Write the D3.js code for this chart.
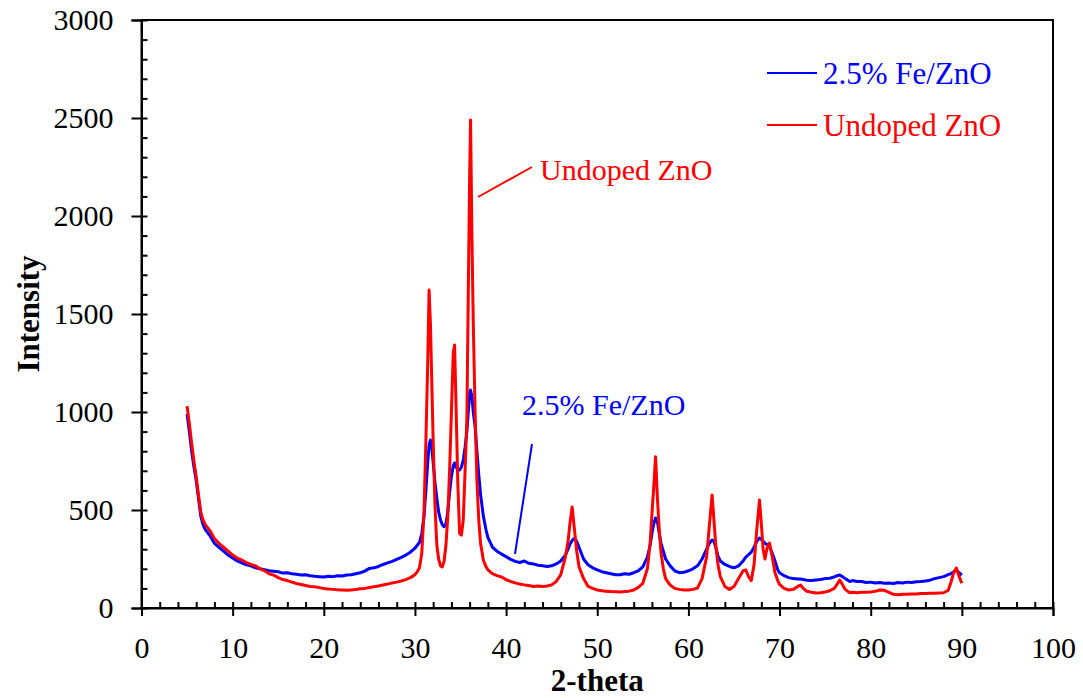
<!DOCTYPE html>
<html>
<head>
<meta charset="utf-8">
<script src="https://cdn.jsdelivr.net/npm/d3@7"></script>
<style>
  body { margin: 0; background: #fff; }
  svg { font-family: "Liberation Serif", "Times New Roman", serif; }
  .axis path, .axis line { stroke: #000; stroke-width: 2; }
  .axis text { font-size: 30px; fill: #000; font-family: "Liberation Serif", serif; }
</style>
</head>
<body>
<svg width="1083" height="698"></svg>
<script>
// 2-theta positions (degrees), denser round the peaks
var twoTheta = [
  5, 5.25, 5.5, 5.75, 6, 6.25, 6.5, 6.75, 7, 7.5, 8, 8.5, 9, 9.5, 10, 10.5, 11, 11.5, 12, 12.5,
  13, 13.5, 14, 14.5, 15, 15.5, 16, 16.5, 17, 17.5, 18, 18.5, 19, 19.5, 20, 20.5, 21, 21.5, 22, 22.5,
  23, 23.5, 24, 24.5, 25, 25.5, 26, 26.5, 27, 27.5, 28, 28.5, 29, 29.5, 30, 30.25, 30.5, 30.75,
  31, 31.2, 31.4, 31.55, 31.7, 31.85, 32, 32.2, 32.4, 32.6, 32.8, 33, 33.2, 33.4, 33.6, 33.8,
  34, 34.2, 34.35, 34.5, 34.7, 34.9, 35.1, 35.3, 35.5, 35.7, 35.85, 36, 36.1, 36.25, 36.4, 36.6,
  36.8, 37, 37.2, 37.5, 37.8, 38, 38.5, 39, 39.5, 40, 40.5, 41, 41.5, 42, 42.5, 43, 43.5, 44, 44.5,
  45, 45.5, 46, 46.5, 46.8, 47, 47.25, 47.5, 47.75, 48, 48.5, 49, 49.5, 50, 50.5, 51, 51.5, 52, 52.5,
  53, 53.5, 54, 54.5, 55, 55.5, 55.8, 56, 56.2, 56.4, 56.6, 56.8, 57, 57.25, 57.5, 58, 58.5, 59, 59.5,
  60, 60.5, 61, 61.5, 62, 62.3, 62.6, 62.8, 63, 63.25, 63.5, 64, 64.5, 65, 65.5, 66, 66.3, 66.6, 66.9,
  67.2, 67.5, 67.8, 68, 68.2, 68.4, 68.6, 68.9, 69.2, 69.5, 69.8, 70, 70.5, 71, 71.5, 72, 72.3, 72.6,
  73, 73.5, 74, 74.5, 75, 75.5, 76, 76.3, 76.6, 76.9, 77.2, 77.7, 78, 78.5, 79, 79.5, 80, 80.5, 81,
  81.5, 82, 82.5, 83, 83.5, 84, 84.5, 85, 85.5, 86, 86.5, 87, 87.5, 88, 88.5, 88.8, 89.1, 89.4, 89.7, 90
];

// 2.5% Fe/ZnO intensities
var feZnO = [
  990, 900, 800, 720, 650, 560, 470, 425, 400, 370, 330, 310, 290, 270, 255, 240, 230, 220, 215, 205,
  200, 195, 190, 188, 185, 178, 180, 175, 172, 168, 170, 165, 162, 160, 158, 162, 160, 165, 163, 168,
  170, 175, 180, 188, 202, 205, 212, 222, 230, 238, 248, 258, 270, 285, 305, 320, 335, 380,
  470, 600, 740, 830, 857, 820, 740, 640, 560, 490, 450, 425, 415, 430, 490, 587,
  670, 725, 740, 720, 705, 704, 720, 755, 820, 900, 1000, 1090, 1112, 1080, 1000, 925,
  800, 680, 580, 470, 398, 360, 310, 290, 275, 262, 248, 238, 232, 240, 228, 225, 218, 215, 212,
  215, 225, 240, 270, 300, 325, 345, 355, 340, 310, 250, 220, 205, 195, 185, 180, 175, 170, 170,
  175, 172, 180, 190, 210, 260, 320, 380, 430, 459, 440, 380, 330, 290, 250, 215, 190, 180, 182,
  190, 200, 215, 250, 300, 330, 347, 340, 310, 265, 240, 222, 212, 205, 215, 240, 260, 272, 285,
  310, 340, 357, 350, 340, 330, 325, 313, 280, 240, 195, 180, 165, 155, 150, 148, 148, 145,
  142, 140, 143, 145, 150, 152, 158, 165, 168, 160, 150, 135, 140, 135, 135, 130, 132, 128, 130,
  126, 128, 125, 130, 128, 132, 130, 134, 135, 138, 142, 150, 155, 160, 170, 175, 185, 194, 180, 168
];

// Undoped ZnO intensities
var undopedZnO = [
  1030, 940, 840, 750, 670, 580, 490, 450, 425, 395, 355, 330, 310, 290, 270, 255, 245, 232, 222, 215,
  200, 190, 175, 168, 155, 145, 140, 132, 125, 120, 115, 110, 108, 104, 100, 97, 95, 93, 92, 90,
  92, 94, 98, 100, 105, 108, 112, 117, 122, 128, 132, 138, 145, 155, 170, 185, 205, 280,
  500, 850, 1250, 1622, 1450, 1150, 850, 520, 320, 250, 215, 210, 240, 320, 466, 700,
  1000, 1300, 1342, 1050, 640, 380, 372, 450, 700, 976, 1600, 2200, 2490, 1900, 1450, 1000,
  650, 450, 330, 245, 210, 195, 175, 165, 158, 145, 135, 128, 122, 118, 115, 110, 112, 110, 112,
  118, 135, 170, 260, 340, 430, 515, 400, 290, 210, 150, 110, 100, 92, 88, 86, 84, 83, 82,
  84, 86, 92, 105, 126, 200, 331, 480, 620, 772, 560, 400, 280, 200, 150, 117, 100, 95, 92,
  92, 95, 102, 150, 262, 420, 577, 450, 320, 220, 160, 110, 95, 110, 150, 190, 194, 160, 140,
  220, 400, 551, 430, 300, 250, 300, 331, 260, 180, 140, 120, 100, 92, 95, 110, 117, 100,
  85, 80, 77, 78, 82, 88, 100, 120, 143, 120, 95, 78, 80, 78, 80, 80, 82, 85, 92,
  90, 80, 70, 68, 70, 70, 72, 72, 74, 74, 75, 75, 77, 78, 90, 130, 180, 204, 160, 126
];

var xTicks = [0, 10, 20, 30, 40, 50, 60, 70, 80, 90, 100];
var yTicks = [0, 500, 1000, 1500, 2000, 2500, 3000];

var svg = d3.select("svg"),
    plotLeft = 141.5, plotRight = 1053, plotTop = 20, plotBottom = 608;

var x = d3.scaleLinear().domain([0, 100]).range([plotLeft, plotRight]);
var y = d3.scaleLinear().domain([0, 3000]).range([plotBottom, plotTop]);

// frame
svg.append("rect")
    .attr("x", plotLeft).attr("y", plotTop)
    .attr("width", plotRight - plotLeft).attr("height", plotBottom - plotTop)
    .attr("fill", "none").attr("stroke", "#000").attr("stroke-width", 2);

// x axis: labelled major ticks outside, minor ticks inside
svg.append("g").attr("class", "axis")
    .attr("transform", "translate(0," + plotBottom + ")")
    .call(d3.axisBottom(x).tickValues(xTicks).tickSize(8).tickPadding(21).tickFormat(d3.format("d")));
svg.append("g").attr("class", "axis")
    .attr("transform", "translate(0," + plotBottom + ")")
    .call(d3.axisTop(x).tickValues(d3.range(0, 101, 2)).tickSize(6).tickFormat(""))
    .select(".domain").remove();

// y axis
svg.append("g").attr("class", "axis")
    .attr("transform", "translate(" + plotLeft + ",0)")
    .call(d3.axisLeft(y).tickValues(yTicks).tickSize(10).tickPadding(18).tickFormat(d3.format("d")));
svg.append("g").attr("class", "axis")
    .attr("transform", "translate(" + plotLeft + ",0)")
    .call(d3.axisRight(y).tickValues(d3.range(0, 3001, 100)).tickSize(6).tickFormat(""))
    .select(".domain").remove();

svg.selectAll(".axis text").attr("font-family", "Liberation Serif, serif");

// axis titles
svg.append("text")
    .attr("x", (plotLeft + plotRight) / 2).attr("y", 691)
    .attr("text-anchor", "middle")
    .attr("font-size", 31).attr("font-weight", "bold")
    .text("2-theta");

svg.append("text")
    .attr("transform", "translate(39," + (plotTop + plotBottom) / 2 + ") rotate(-90)")
    .attr("text-anchor", "middle")
    .attr("font-size", 31).attr("font-weight", "bold")
    .text("Intensity");

var line = d3.line()
    .x(function(d) { return x(d[0]); })
    .y(function(d) { return y(d[1]); });

var series = [
  { name: "2.5% Fe/ZnO", color: "#0000ff", values: feZnO },
  { name: "Undoped ZnO", color: "#ff0000", values: undopedZnO }
];

series.forEach(function(s) {
    svg.append("path")
        .datum(twoTheta.map(function(t, i) { return [t, s.values[i]]; }))
        .attr("fill", "none")
        .attr("stroke", s.color)
        .attr("stroke-width", 3)
        .attr("stroke-linejoin", "round")
        .attr("d", line);
});

// legend
var legend = svg.append("g");
series.forEach(function(s, i) {
    var ly = 73 + i * 52;
    legend.append("line")
        .attr("x1", 767).attr("x2", 817).attr("y1", ly).attr("y2", ly)
        .attr("stroke", s.color).attr("stroke-width", 2);
    legend.append("text")
        .attr("x", 823).attr("y", ly + 11)
        .attr("font-size", 31).attr("fill", s.color)
        .text(s.name);
});

// callouts
svg.append("line")
    .attr("x1", 532).attr("y1", 167).attr("x2", 478).attr("y2", 197)
    .attr("stroke", "#ff0000").attr("stroke-width", 2);
svg.append("text")
    .attr("x", 540).attr("y", 180)
    .attr("font-size", 30).attr("fill", "#ff0000")
    .text("Undoped ZnO");

svg.append("line")
    .attr("x1", 532).attr("y1", 444).attr("x2", 515).attr("y2", 554)
    .attr("stroke", "#0000ff").attr("stroke-width", 2);
svg.append("text")
    .attr("x", 522).attr("y", 415)
    .attr("font-size", 30).attr("fill", "#0000ff")
    .text("2.5% Fe/ZnO");
</script>
</body>
</html>
